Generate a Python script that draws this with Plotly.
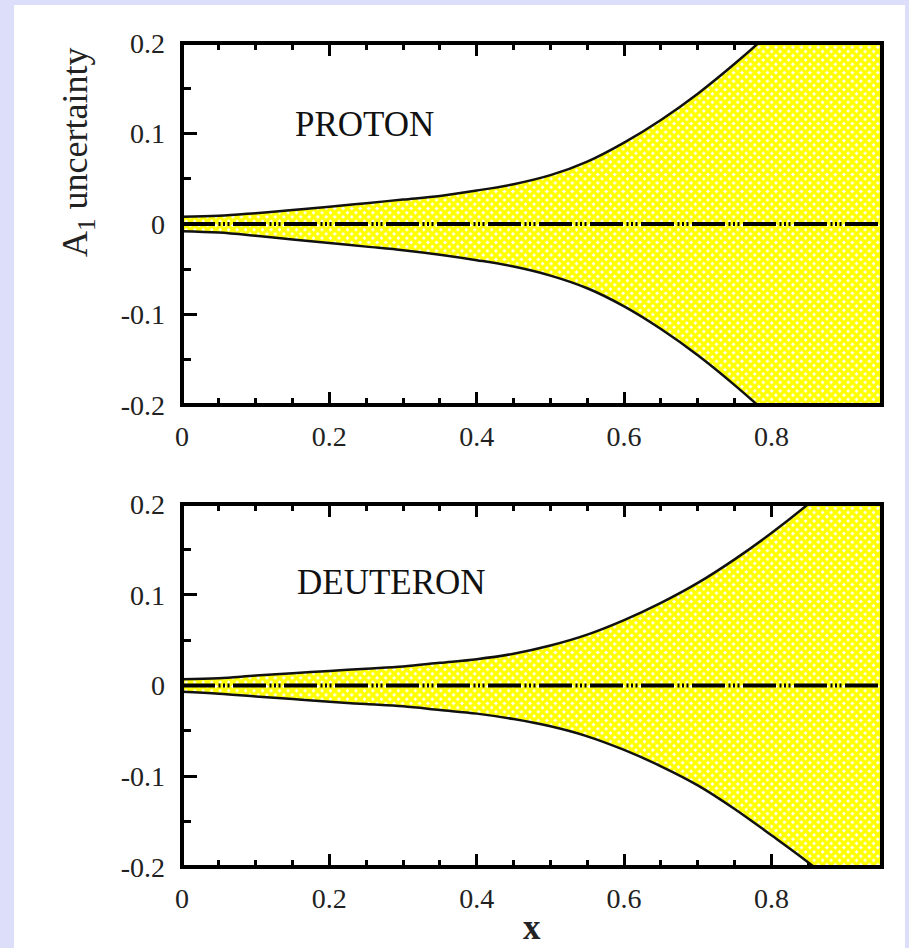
import plotly.graph_objects as go

W, H = 909, 948

# Bjorken x grid and the A1 uncertainty band edges for each target
x_vals = [0, 0.05, 0.1, 0.15, 0.2, 0.25, 0.3, 0.35, 0.4, 0.45, 0.5,
          0.55, 0.6, 0.65, 0.7, 0.75, 0.8, 0.85, 0.9, 0.95]

proton_hi = [0.008, 0.009, 0.012, 0.0155, 0.019, 0.023, 0.027, 0.031, 0.037, 0.044,
             0.054, 0.069, 0.09, 0.115, 0.144, 0.177, 0.213, 0.252, 0.295, 0.34]
proton_lo = [-0.008, -0.0095, -0.013, -0.017, -0.021, -0.025, -0.029, -0.034, -0.04, -0.047,
             -0.057, -0.071, -0.091, -0.116, -0.145, -0.178, -0.214, -0.253, -0.296, -0.34]

deuteron_hi = [0.007, 0.008, 0.011, 0.0135, 0.016, 0.0185, 0.021, 0.025, 0.029, 0.035,
               0.044, 0.056, 0.072, 0.091, 0.113, 0.139, 0.168, 0.2, 0.235, 0.273]
deuteron_lo = [-0.007, -0.009, -0.012, -0.015, -0.018, -0.0205, -0.023, -0.027, -0.031, -0.037,
               -0.045, -0.056, -0.071, -0.089, -0.11, -0.136, -0.165, -0.195, -0.228, -0.263]

panel_names = ["PROTON", "DEUTERON"]

x_ticks = [0, 0.2, 0.4, 0.6, 0.8]
x_tick_text = ["0", "0.2", "0.4", "0.6", "0.8"]
y_ticks = [-0.2, -0.1, 0, 0.1, 0.2]
y_tick_text = ["-0.2", "-0.1", "0", "0.1", "0.2"]

SERIF = "Liberation Serif"
YELLOW = "#ffff00"
BG = "rgb(220,222,250)"

fig = go.Figure()

panels = [(proton_lo, proton_hi, "x", "y"), (deuteron_lo, deuteron_hi, "x2", "y2")]
for lo, hi, xa, ya in panels:
    fig.add_trace(go.Scatter(
        x=x_vals, y=lo, mode="lines", xaxis=xa, yaxis=ya,
        line=dict(color="#111111", width=2.5, shape="spline", smoothing=1.0),
        hoverinfo="skip", showlegend=False))
    # yellow cross-hatch leaving small white diamonds
    fig.add_trace(go.Scatter(
        x=x_vals, y=hi, mode="lines", xaxis=xa, yaxis=ya, fill="tonexty",
        fillcolor="white",
        fillpattern=dict(shape="x", bgcolor="white", fgcolor=YELLOW,
                         fgopacity=1, fillmode="replace",
                         size=6, solidity=0.8),
        line=dict(color="#111111", width=2.5, shape="spline", smoothing=1.0),
        hoverinfo="skip", showlegend=False))
    # dash-dot-dot-dot zero line
    fig.add_trace(go.Scatter(
        x=[0, 0.95], y=[0, 0], mode="lines", xaxis=xa, yaxis=ya,
        line=dict(color="black", width=4,
                  dash="33px,3.5px,2px,2.5px,2px,2.5px,2px,3.5px"),
        hoverinfo="skip", showlegend=False))

x_dom = [182 / W, 882 / W]
y1_dom = [1 - 405 / H, 1 - 43 / H]
y2_dom = [1 - 867 / H, 1 - 504 / H]

tickfont = dict(family=SERIF, size=28, color="#222222")


def x_axis(anchor):
    return dict(domain=x_dom, range=[0, 0.95], anchor=anchor, automargin=False,
                tickvals=x_ticks, ticktext=x_tick_text, tickfont=tickfont,
                ticks="inside", ticklen=13, tickwidth=3, tickcolor="black",
                mirror="allticks", showline=False, showgrid=False, zeroline=False,
                ticklabelstandoff=12, layer="below traces",
                minor=dict(dtick=0.05, tick0=0, ticks="inside", ticklen=7,
                           tickwidth=3, tickcolor="black", showgrid=False),
                fixedrange=True)


def y_axis(domain, anchor):
    return dict(domain=domain, range=[-0.2, 0.2], anchor=anchor, automargin=False,
                tickvals=y_ticks, ticktext=y_tick_text, tickfont=tickfont,
                ticks="inside", ticklen=15, tickwidth=3, tickcolor="black",
                mirror="allticks", showline=False, showgrid=False, zeroline=False,
                ticklabelstandoff=16, layer="below traces",
                minor=dict(dtick=0.05, tick0=0, ticks="inside", ticklen=9,
                           tickwidth=3, tickcolor="black", showgrid=False),
                fixedrange=True)


shapes = [
    # white page area on the lavender background
    dict(type="rect", xref="paper", yref="paper", x0=14 / W, x1=905 / W,
         y0=0, y1=1 - 5 / H, fillcolor="white", line=dict(width=0), layer="below"),
    # frames drawn above the filled bands
    dict(type="rect", xref="x domain", yref="y domain", x0=0, x1=1, y0=0, y1=1,
         line=dict(color="black", width=4), layer="above"),
    dict(type="rect", xref="x2 domain", yref="y2 domain", x0=0, x1=1, y0=0, y1=1,
         line=dict(color="black", width=4), layer="above"),
]

annotations = [
    dict(text=panel_names[0], x=0.15, y=0.11, xref="x", yref="y",
         xanchor="left", yanchor="middle", showarrow=False,
         font=dict(family=SERIF, size=35, color="#111111")),
    dict(text=panel_names[1], x=0.153, y=0.114, xref="x2", yref="y2",
         xanchor="left", yanchor="middle", showarrow=False,
         font=dict(family=SERIF, size=35, color="#111111")),
    dict(text="A<sub>1</sub> uncertainty", textangle=-90,
         x=77 / W, y=1 - 152 / H, xref="paper", yref="paper",
         xanchor="center", yanchor="middle", showarrow=False,
         font=dict(family=SERIF, size=36, color="#222222")),
    dict(text="<b>x</b>", x=532 / W, y=1 - 927 / H, xref="paper", yref="paper",
         xanchor="center", yanchor="middle", showarrow=False,
         font=dict(family=SERIF, size=35, color="#222222")),
]

fig.update_layout(
    width=W, height=H,
    margin=dict(l=0, r=0, t=0, b=0, autoexpand=False),
    paper_bgcolor=BG, plot_bgcolor="white",
    xaxis=x_axis("y"), yaxis=y_axis(y1_dom, "x"),
    xaxis2=x_axis("y2"), yaxis2=y_axis(y2_dom, "x2"),
    shapes=shapes, annotations=annotations,
    showlegend=False,
)

fig.write_html("out.html", config={"displayModeBar": False})
